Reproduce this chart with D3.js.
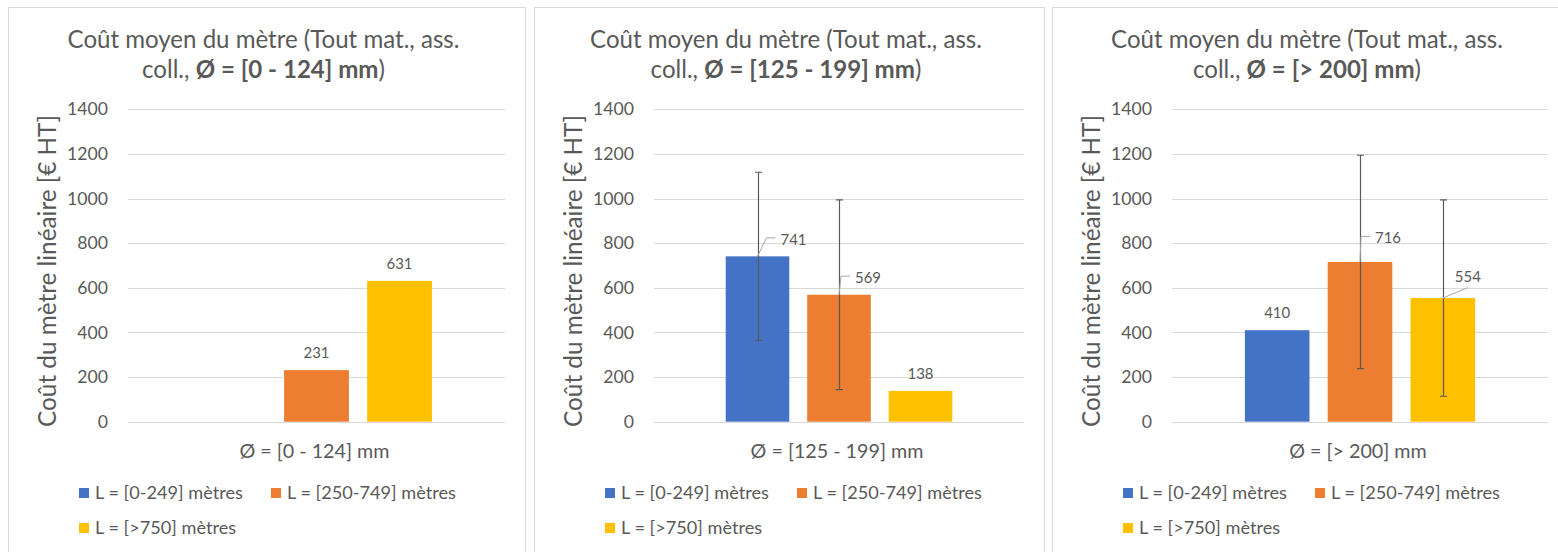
<!DOCTYPE html>
<meta charset="utf-8">
<style>
body { margin: 0; background: #fff; }
text { font-family: Lato, "Open Sans", sans-serif; fill: #595959; }
.grid line { stroke: #d9d9d9; stroke-width: 1px; }
.frame { fill: #fff; stroke: #d9d9d9; stroke-width: 1px; }
.err { stroke: #595959; stroke-width: 1.2px; fill: none; }
.leader { stroke: #a6a6a6; stroke-width: 1px; fill: none; }
</style>
<svg width="1558" height="552"></svg>
<script src="https://cdn.jsdelivr.net/npm/d3@7"></script>
<script>

// data
var series = ["L = [0-249] mètres", "L = [250-749] mètres", "L = [>750] mètres"];
var colors = ["#4472C4", "#ED7D31", "#FFC000"];
var diameters = ["[0 - 124]", "[125 - 199]", "[> 200]"];
var values = [[null, 231, 631], [741, 569, 138], [410, 716, 554]];
var errors = [[null, null, null], [377, 425, null], [null, 478, 440]];
var yTicks = [0, 200, 400, 600, 800, 1000, 1200, 1400];

// label offsets (from bar top centre) for labels that Excel pushed aside
var leaderLabels = {
  "1-0": { dx: 36, dy: -17, side: true },
  "1-1": { dx: 29, dy: -17, side: true },
  "2-1": { dx: 28, dy: -24, side: true },
  "2-2": { dx: 25, dy: -21, side: false }
};

var svg = d3.select("svg");

function fitSize(str, weight, target) {
  var t = svg.append("text").style("font-size", "100px").style("font-weight", weight).text(str);
  var len = t.node().getComputedTextLength();
  t.remove();
  return 100 * target / len;
}

var titleSize = fitSize("Coût moyen du mètre (Tout mat., ass.", 400, 392),
    axisTitleSize = fitSize("Coût du mètre linéaire [€ HT]", 400, 312),
    catSize = fitSize("Ø = [0 - 124] mm", 400, 150),
    legendSize = fitSize("L = [0-249] mètres", 400, 148),
    tickSize = fitSize("1400", 400, 41),
    labelSize = fitSize("231", 400, 26);

var panelLeft = [8, 534, 1052],
    panelWidth = [517, 510, 516];

var y = d3.scaleLinear().domain([0, 1400]).range([421.7, 109.3]);

panelLeft.forEach(function(left, p) {
  var w = panelWidth[p],
      plotL = left + 120,
      plotR = left + w - 20,
      g = svg.append("g");

  g.append("rect").attr("class", "frame")
      .attr("x", left + 0.5).attr("y", 7.5).attr("width", w).attr("height", 560);

  // title
  var cx = left + w / 2 - 3;
  g.append("text").attr("x", cx).attr("y", 40).attr("dy", "0.35em")
      .attr("text-anchor", "middle").style("font-size", titleSize + "px")
      .text("Coût moyen du mètre (Tout mat., ass.");
  var t2 = g.append("text").attr("x", cx).attr("y", 70).attr("dy", "0.35em")
      .attr("text-anchor", "middle").style("font-size", titleSize + "px");
  t2.append("tspan").text("coll., ");
  t2.append("tspan").style("font-weight", "bold").text("Ø = " + diameters[p] + " mm");
  t2.append("tspan").text(")");

  // gridlines
  g.append("g").attr("class", "grid").selectAll("line")
    .data(yTicks).enter().append("line")
      .attr("x1", plotL).attr("x2", plotR)
      .attr("y1", function(d) { return Math.round(y(d)) + 0.5; })
      .attr("y2", function(d) { return Math.round(y(d)) + 0.5; });

  // y axis ticks
  var ax = g.append("g").attr("transform", "translate(" + (left + 112) + ",0)")
      .call(d3.axisLeft(y).tickValues(yTicks).tickFormat(d3.format("d")).tickSize(0).tickPadding(12));
  ax.select(".domain").remove();
  ax.selectAll("text").style("font-size", tickSize + "px")
      .style("font-family", "Lato, 'Open Sans', sans-serif").attr("fill", "#595959");

  g.append("text")
      .attr("transform", "translate(" + (left + 39) + ",271) rotate(-90)")
      .attr("dy", "0.35em").attr("text-anchor", "middle")
      .style("font-size", axisTitleSize + "px")
      .text("Coût du mètre linéaire [€ HT]");

  // bars
  var x = d3.scaleBand().domain([0, 1, 2]).range([plotL, plotR])
      .paddingInner(0.22).paddingOuter(0.88);

  var rows = values[p].map(function(v, s) { return { s: s, v: v, e: errors[p][s] }; })
      .filter(function(d) { return d.v != null; });

  g.selectAll(".bar").data(rows).enter().append("rect")
      .attr("class", "bar")
      .attr("x", function(d) { return x(d.s); })
      .attr("width", x.bandwidth())
      .attr("y", function(d) { return y(d.v); })
      .attr("height", function(d) { return y(0) - y(d.v); })
      .attr("fill", function(d) { return colors[d.s]; });

  // error bars
  rows.filter(function(d) { return d.e != null; }).forEach(function(d) {
    var bx = Math.round(x(d.s) + x.bandwidth() / 2) + 0.5,
        y1 = y(d.v + d.e), y2 = y(d.v - d.e);
    g.append("path").attr("class", "err")
        .attr("d", "M" + bx + "," + y1 + "V" + y2 +
                   "M" + (bx - 3.5) + "," + y1 + "H" + (bx + 3.5) +
                   "M" + (bx - 3.5) + "," + y2 + "H" + (bx + 3.5));
  });

  // data labels
  rows.forEach(function(d) {
    var bx = x(d.s) + x.bandwidth() / 2,
        top = y(d.v),
        key = p + "-" + d.s,
        lab = leaderLabels[key];
    if (!lab) {
      g.append("text").attr("x", bx).attr("y", top - 17.5).attr("dy", "0.35em")
          .attr("text-anchor", "middle").style("font-size", labelSize + "px").text(d.v);
      return;
    }
    var lx = bx + lab.dx, ly = top + lab.dy;
    var txt = g.append("text").attr("x", lx).attr("y", ly).attr("dy", "0.35em")
        .attr("text-anchor", "middle").style("font-size", labelSize + "px").text(d.v);
    var half = txt.node().getComputedTextLength() / 2;
    if (lab.side) {
      var ex = lx - half - 5;
      g.append("path").attr("class", "leader")
          .attr("d", "M" + bx + "," + top + "L" + (ex - 9) + "," + (ly - 1.5) + "H" + ex);
    } else {
      g.append("path").attr("class", "leader")
          .attr("d", "M" + bx + "," + top + "L" + lx + "," + (ly + 10.5));
    }
  });

  // category label
  g.append("text").attr("x", (plotL + plotR) / 2 - 2).attr("y", 451).attr("dy", "0.35em")
      .attr("text-anchor", "middle").style("font-size", catSize + "px")
      .text("Ø = " + diameters[p] + " mm");

  // legend
  var legX = left + 71;
  var items = g.selectAll(".leg").data(series).enter().append("g")
      .attr("class", "leg")
      .attr("transform", function(d, i) {
        return "translate(" + (legX + (i === 1 ? 192 : 0)) + "," + (i === 2 ? 528 : 493) + ")";
      });
  items.append("rect").attr("x", 0).attr("y", -5).attr("width", 10).attr("height", 10)
      .attr("fill", function(d, i) { return colors[i]; });
  items.append("text").attr("x", 16).attr("dy", "0.35em")
      .style("font-size", legendSize + "px").text(function(d) { return d; });
});

</script>
